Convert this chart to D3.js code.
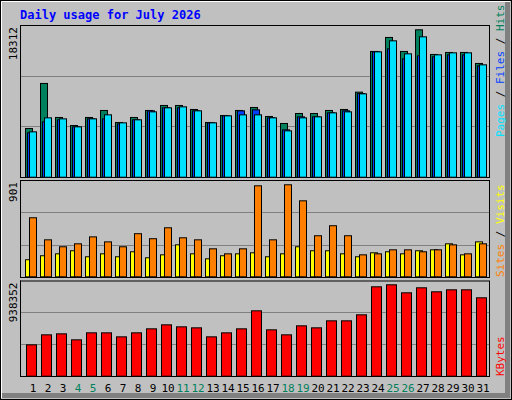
<!DOCTYPE html>
<html><head><meta charset="utf-8">
<script src="https://cdn.jsdelivr.net/npm/d3@7"></script>
<style>body{margin:0;background:#fff}svg{display:block}</style>
</head><body>
<script>
const days = d3.range(1,32).map(String);
const weekend = ["4","5","11","12","18","19","25","26"];
const hits  = [6053,11647,7420,6425,7420,8290,6798,7420,8290,8911,8911,8414,6798,7668,8290,8662,7544,6674,7916,7916,8290,8414,10564,15622,17362,15622,18312,15249,15497,15497,14130];
const files = [5510,6877,7125,6255,7249,7249,6627,7125,8243,8616,8616,8243,6752,7622,8243,8367,7373,5882,7498,7498,7994,8243,10397,15574,15948,14705,15078,14954,15202,15202,13835];
const pages = [5634,7373,7249,6255,7249,7746,6752,7125,8118,8616,8741,8243,6752,7622,7746,7746,7373,5758,7373,7498,7994,8118,10356,15574,16942,15326,17438,15202,15450,15450,13959];
const visits= [578,362,294,323,391,342,294,422,373,480,382,362,274,225,274,891,362,901,744,402,500,402,215,225,264,264,245,264,313,225,323];
const sites = [167,206,225,255,196,225,196,245,186,215,313,225,176,206,225,235,196,225,294,255,255,225,196,235,245,225,255,264,323,215,342];
const kbytes= [321912,424650,434924,373281,445198,445198,404103,445198,486293,527388,506841,496567,404103,445198,486293,671222,476019,424650,517115,496567,568484,568484,630126,917793,938352,856150,907519,866424,886971,886971,804781];
const maxLabels = ["18312","901","938352"];

const W=512,H=400;
const svg=d3.select("body").append("svg").attr("width",W).attr("height",H);
const font="DejaVu Sans Mono, monospace";
svg.append("rect").attr("width",W).attr("height",H).attr("fill","#c0c0c0");
// bevel
svg.append("path").attr("d","M0,0H512V400H0Z").attr("fill","none").attr("stroke","#000").attr("stroke-width",2);
svg.append("path").attr("d","M1.5,398V1.5H510").attr("fill","none").attr("stroke","#fff").attr("stroke-width",1);
svg.append("rect").attr("x",505).attr("y",2).attr("width",5).attr("height",396).attr("fill","#808080");
svg.append("rect").attr("x",2).attr("y",393).attr("width",508).attr("height",5).attr("fill","#808080");

svg.append("text").attr("x",20).attr("y",19).attr("font-family",font).attr("font-weight","bold")
  .attr("font-size",12).attr("fill","#0000ff").text("Daily usage for July 2026");

const x=d3.scaleBand().domain(days).range([25,490]).padding(0);

const panels=[
 {top:25,bot:177,maxY:29.3,base:176.7,max:18312,label:maxLabels[0]},
 {top:180,bot:277,maxY:184.3,base:276.3,max:901,label:maxLabels[1]},
 {top:280.5,bot:376,maxY:284.3,base:375.7,max:938352,label:maxLabels[2]}
];
panels.forEach(p=>{
  p.y=d3.scaleLinear().domain([0,p.max]).range([p.base,p.maxY]);
  const g=svg.append("g");
  g.append("rect").attr("x",20.5).attr("y",p.top+0.5).attr("width",469).attr("height",p.bot-p.top)
    .attr("fill","#c0c0c0").attr("stroke","#000");
  g.append("path").attr("d",`M20.5,${p.top}V${p.bot+0.5}H490`).attr("stroke","#000").attr("fill","none");
  const h=p.bot-p.top;
  [1/3,2/3].forEach(f=>{
    const yy=Math.round(p.top+h*f)+0.5;
    g.append("line").attr("x1",21).attr("x2",489).attr("y1",yy).attr("y2",yy).attr("stroke","#808080");
  });
  g.append("text").attr("transform",`translate(17,${p.top+2}) rotate(-90)`).attr("text-anchor","end")
    .attr("font-family",font).attr("font-size",11).attr("fill","#000").text(p.label);
});

function bars(p,vals,off,w,fill){
  svg.append("g").selectAll("rect").data(vals).join("rect")
    .attr("x",(d,i)=>x(days[i])+off+0.5).attr("width",w)
    .attr("y",d=>p.y(d)+0.5).attr("height",d=>p.base-p.y(d))
    .attr("fill",fill).attr("stroke","#000");
}
bars(panels[0],hits,0,7,"#00805c");
bars(panels[0],files,2,7,"#0040ff");
bars(panels[0],pages,4,7,"#00e0ff");
bars(panels[1],sites,0,7,"#ffff00");
bars(panels[1],visits,4,7,"#ff8000");
bars(panels[2],kbytes,1,10,"#ff0000");

svg.append("g").selectAll("text").data(days).join("text")
  .attr("x",d=>x(d)+8).attr("y",392).attr("text-anchor","middle")
  .attr("font-family",font).attr("font-size",11)
  .attr("fill",d=>weekend.includes(d)?"#00805c":"#000").text(d=>d);

function sideLabel(y,parts){
  const t=svg.append("text").attr("transform",`translate(504,${y}) rotate(-90)`)
    .attr("font-family",font).attr("font-size",11);
  parts.forEach(([s,c])=>t.append("tspan").attr("fill",c).text(s));
}
sideLabel(137,[["Pages","#00e0ff"],[" / ","#000"],["Files","#0040ff"],[" / ","#000"],["Hits","#00805c"]]);
sideLabel(277,[["Sites","#ff8000"],[" / ","#000"],["Visits","#ffff00"]]);
sideLabel(376,[["KBytes","#ff0000"]]);
</script>
</body></html>
